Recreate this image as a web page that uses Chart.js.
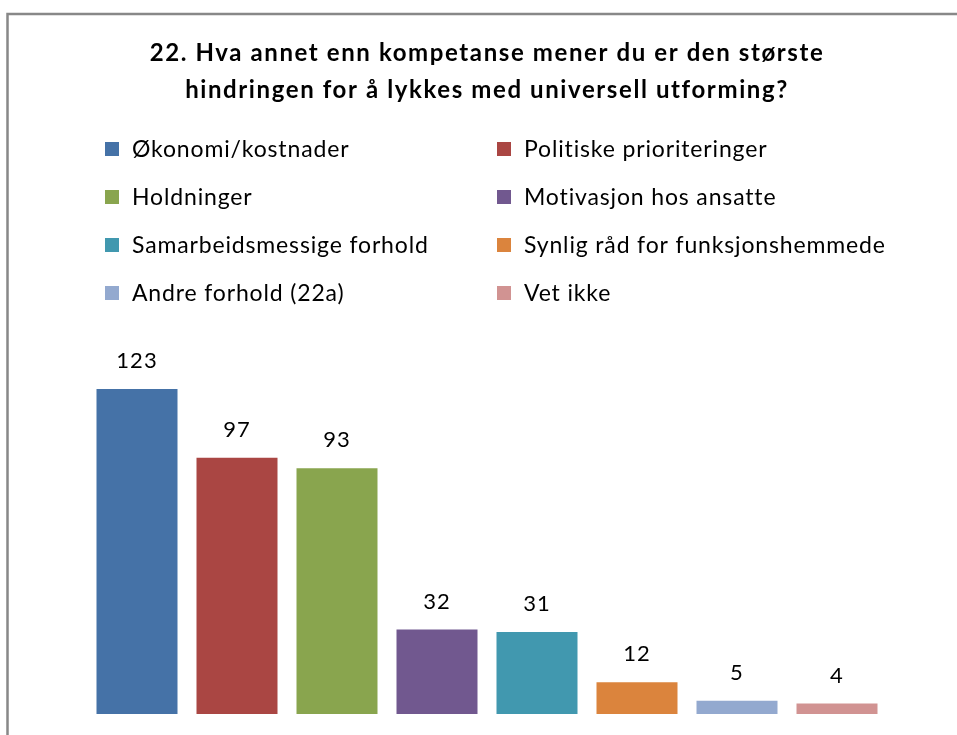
<!DOCTYPE html>
<html>
<head>
<meta charset="utf-8">
<script src="https://cdn.jsdelivr.net/npm/chart.js@4"></script>
<style>
  html, body { margin: 0; padding: 0; background: #fff; }
  #wrap { width: 957px; height: 735px; position: relative; }
</style>
</head>
<body>
<div id="wrap"><canvas id="myChart"></canvas></div>
<script>
// chart data
const titleLines = [
  "22. Hva annet enn kompetanse mener du er den største",
  "hindringen for å lykkes med universell utforming?"
];
const categories = [
  "Økonomi/kostnader",
  "Politiske prioriteringer",
  "Holdninger",
  "Motivasjon hos ansatte",
  "Samarbeidsmessige forhold",
  "Synlig råd for funksjonshemmede",
  "Andre forhold (22a)",
  "Vet ikke"
];
const counts = [123, 97, 93, 32, 31, 12, 5, 4];
const colors = ["#4572A7", "#AA4643", "#89A54E", "#71588F", "#4198AF", "#DB843D", "#93A9CF", "#D19392"];

const FONT = "Lato, 'Open Sans', sans-serif";

// frame, title, legend and value labels
const decor = {
  id: "decor",
  beforeDraw(chart) {
    const c = chart.ctx;
    c.save();
    c.fillStyle = "#fff";
    c.fillRect(0, 0, chart.width, chart.height);
    c.strokeStyle = "#888";
    c.lineWidth = 2.5;
    c.beginPath();
    c.moveTo(7.5, chart.height + 5);
    c.lineTo(7.5, 14);
    c.lineTo(chart.width + 5, 14);
    c.stroke();
    c.restore();
  },
  afterDraw(chart) {
    const c = chart.ctx;
    c.save();
    // title
    c.fillStyle = "#000";
    c.font = "bold 24px " + FONT;
    c.letterSpacing = "1.6px";
    c.textAlign = "center";
    c.textBaseline = "middle";
    c.fillText(titleLines[0], 487, 53);
    c.fillText(titleLines[1], 487, 90);

    // legend, two columns
    c.font = "23px " + FONT;
    c.letterSpacing = "0.85px";
    c.textAlign = "left";
    const colX = [105, 497];
    categories.forEach((name, i) => {
      const x = colX[i % 2];
      const y = 149 + Math.floor(i / 2) * 48;
      c.fillStyle = colors[i];
      c.fillRect(x, y - 7, 14, 14);
      c.fillStyle = "#000";
      c.fillText(name, x + 27, y + 1);
    });

    // value labels
    c.textAlign = "center";
    c.font = "22px " + FONT;
    c.letterSpacing = "1px";
    const meta = chart.getDatasetMeta(0);
    meta.data.forEach((bar, i) => {
      c.fillText(String(counts[i]), bar.x, bar.y - 28);
    });
    c.restore();
  }
};

const ctx = document.getElementById("myChart");
const myChart = new Chart(ctx, {
  type: "bar",
  data: {
    labels: categories,
    datasets: [
      {
        label: "Antall",
        data: counts,
        backgroundColor: colors,
        borderWidth: 0,
        barPercentage: 0.9,
        categoryPercentage: 0.9,
      },
    ],
  },
  options: {
    responsive: true,
    maintainAspectRatio: false,
    animation: false,
    layout: {
      padding: { left: 87, right: 70, top: 344, bottom: 21 },
    },
    plugins: {
      legend: { display: false },
      title: { display: false },
      tooltip: { enabled: false },
    },
    scales: {
      x: { display: false },
      y: { display: false, min: 0, max: 140 },
    },
  },
  plugins: [decor],
});
</script>
</body>
</html>
